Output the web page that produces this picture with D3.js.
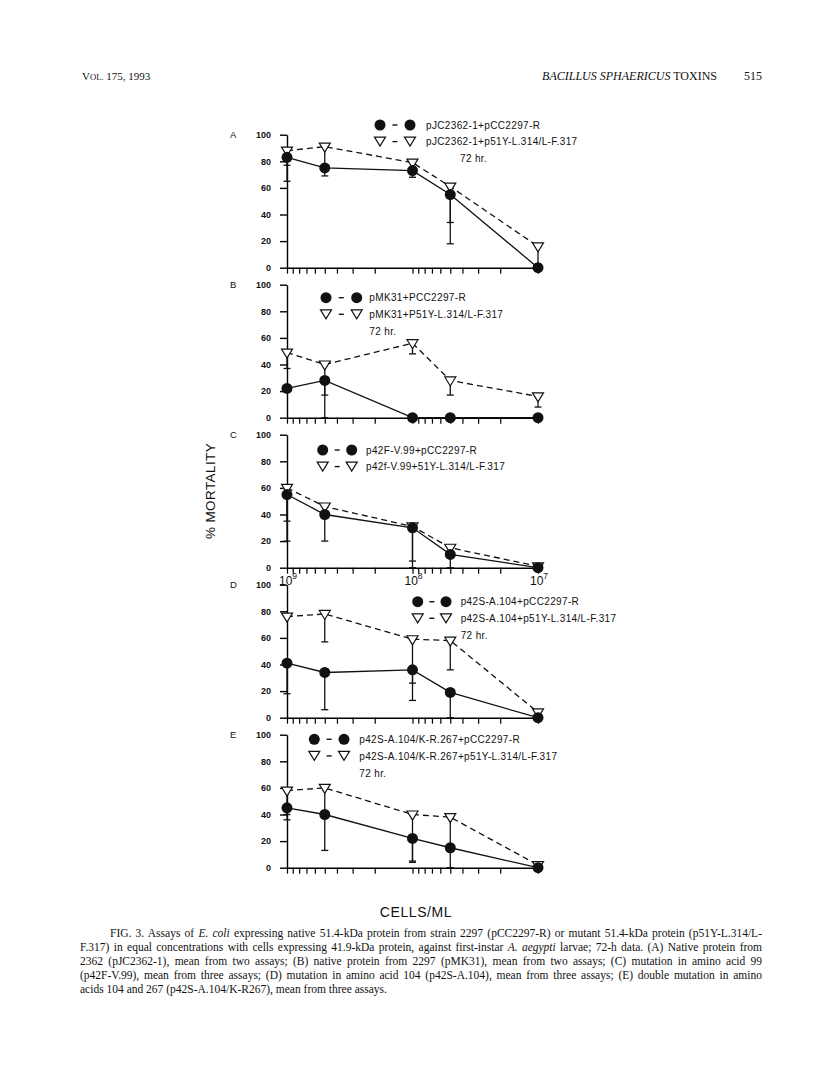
<!DOCTYPE html>
<html><head><meta charset="utf-8">
<script src="https://cdn.jsdelivr.net/npm/d3@7/dist/d3.min.js"></script>
<style>body{margin:0;background:#fff}svg{display:block}</style>
</head><body>
<svg id="c" width="816" height="1085"></svg>
<script>
// ---------- data ----------
const doses = [1e9, 5e8, 1e8, 5e7, 1e7];
const yTicks = [0, 20, 40, 60, 80, 100];
const xTickLabels = [{v: 1e9, e: "9"}, {v: 1e8, e: "8"}, {v: 1e7, e: "7"}];
const panelLetters = ["A", "B", "C", "D", "E"];
const nativeLabels = ["pJC2362-1+pCC2297-R", "pMK31+PCC2297-R", "p42F-V.99+pCC2297-R", "p42S-A.104+pCC2297-R", "p42S-A.104/K-R.267+pCC2297-R"];
const mutantLabels = ["pJC2362-1+p51Y-L.314/L-F.317", "pMK31+P51Y-L.314/L-F.317", "p42f-V.99+51Y-L.314/L-F.317", "p42S-A.104+p51Y-L.314/L-F.317", "p42S-A.104/K-R.267+p51Y-L.314/L-F.317"];
const hourLabel = ["72 hr.", "72 hr.", "", "72 hr.", "72 hr."];

// % mortality (native = filled circles, mutant = open triangles); *Low = lower end of error bar
const nativeA = [83, 75, 73, 55, 0],  nativeLowA = [65, null, 68, 18, null];
const mutantA = [88, 91, 79, 61, 16], mutantLowA = [77, 69, null, 34, 1];
const nativeB = [22, 28, 0, 0, 0],    nativeLowB = [null, 0, null, null, null];
const mutantB = [49, 40, 56, 28, 16], mutantLowB = [37, 17, 48, 17, 8];
const nativeC = [55, 40, 30, 10, 0],  nativeLowC = [20, 20, 0, 0, null];
const mutantC = [60, 46, 31, 15, 1],  mutantLowC = [35, null, 5, null, null];
const nativeD = [41, 34, 36, 19, 0],  nativeLowD = [18, 6, 13, 0, null];
const mutantD = [76, 78, 59, 58, 4],  mutantLowD = [null, 57, 26, 36, null];
const nativeE = [45, 40, 22, 15, 0],  nativeLowE = [36, null, 4, null, null];
const mutantE = [58, 60, 40, 38, 2],  mutantLowE = [40, 13, 5, 0, null];

const nativeSeries = [nativeA, nativeB, nativeC, nativeD, nativeE];
const nativeLows = [nativeLowA, nativeLowB, nativeLowC, nativeLowD, nativeLowE];
const mutantSeries = [mutantA, mutantB, mutantC, mutantD, mutantE];
const mutantLows = [mutantLowA, mutantLowB, mutantLowC, mutantLowD, mutantLowE];

const captionLines = [
  [{t: "FIG. 3. Assays of "}, {t: "E. coli", i: true}, {t: " expressing native 51.4-kDa protein from strain 2297 (pCC2297-R) or mutant 51.4-kDa protein (p51Y-L.314/L-"}],
  [{t: "F.317) in equal concentrations with cells expressing 41.9-kDa protein, against first-instar "}, {t: "A. aegypti", i: true}, {t: " larvae; 72-h data. (A) Native protein from"}],
  [{t: "2362 (pJC2362-1), mean from two assays; (B) native protein from 2297 (pMK31), mean from two assays; (C) mutation in amino acid 99"}],
  [{t: "(p42F-V.99), mean from three assays; (D) mutation in amino acid 104 (p42S-A.104), mean from three assays; (E) double mutation in amino"}],
  [{t: "acids 104 and 267 (p42S-A.104/K-R267), mean from three assays."}]
];

// ---------- layout ----------
const svg = d3.select("#c");
const SANS = "'Liberation Sans', Arial, Helvetica, sans-serif";
const SERIF = "'Liberation Serif', 'Times New Roman', serif";
const x = d3.scaleLog().domain([1e9, 1e7]).range([287, 538]);
const panelTop0 = 134.7, panelStep = 150, panelH = 133;
const legendPos = [
  {c1: 380, c2: 410, tx: 426, y: 125},
  {c1: 326, c2: 356.7, tx: 369.3, y: 297.7},
  {c1: 322.7, c2: 351.7, tx: 366, y: 450},
  {c1: 417.7, c2: 446, tx: 460.7, y: 601.7},
  {c1: 314.3, c2: 344, tx: 359.3, y: 739.3}
];
const hrX = [460, 369.3, 0, 460.7, 359.3];
const rowGap = 16.6;
const triPath = "M-5.5,-3.5L5.5,-3.5L0,5.5Z";

// header
const hl = svg.append("text").attr("x", 82).attr("y", 80).attr("font-family", SERIF).attr("font-size", 11).attr("fill", "#111");
hl.append("tspan").text("V");
hl.append("tspan").attr("font-size", 8.6).text("OL.");
hl.append("tspan").text(" 175, 1993");
const hr = svg.append("text").attr("x", 717).attr("y", 80).attr("text-anchor", "end").attr("font-family", SERIF).attr("font-size", 12).attr("fill", "#111");
hr.append("tspan").attr("font-style", "italic").text("BACILLUS SPHAERICUS");
hr.append("tspan").text(" TOXINS");
svg.append("text").attr("x", 762).attr("y", 80).attr("text-anchor", "end").attr("font-family", SERIF).attr("font-size", 12).attr("fill", "#111").text("515");

panelLetters.forEach((letter, i) => {
  const top = panelTop0 + panelStep * i;
  const y = d3.scaleLinear().domain([0, 100]).range([top + panelH, top]);
  const g = svg.append("g");

  // y axis
  const ya = g.append("g").attr("transform", `translate(${x(1e9)},0)`)
    .call(d3.axisLeft(y).tickValues(yTicks).tickSize(7).tickSizeOuter(0).tickPadding(9));
  ya.select(".domain").attr("stroke-width", 1.4);
  ya.selectAll(".tick line").attr("stroke-width", 1.4);
  ya.selectAll("text").attr("font-family", SANS).attr("font-size", 9).attr("font-weight", "bold").attr("fill", "#111");

  // x axis
  const xa = g.append("g").attr("transform", `translate(0,${y(0)})`)
    .call(d3.axisBottom(x).ticks(10).tickSize(6).tickSizeOuter(0).tickFormat(""));
  xa.select(".domain").attr("stroke-width", 1.4);
  xa.selectAll(".tick line").attr("stroke-width", 1.2);

  // panel letter
  g.append("text").attr("x", 230).attr("y", top + 3.5).attr("font-family", SANS).attr("font-size", 9.5).attr("fill", "#111").text(letter);

  const nat = nativeSeries[i], natLow = nativeLows[i], mut = mutantSeries[i], mutLow = mutantLows[i];
  const line = d3.line().x((d, k) => x(doses[k])).y(d => y(d));

  g.append("path").attr("d", line(mut)).attr("fill", "none").attr("stroke", "#111").attr("stroke-width", 1.3).attr("stroke-dasharray", "6,4");
  g.append("path").attr("d", line(nat)).attr("fill", "none").attr("stroke", "#111").attr("stroke-width", 1.3);

  // error bars (lower only)
  const drawErr = (vals, lows) => {
    vals.forEach((v, k) => {
      const lo = lows[k];
      if (lo === null) return;
      const cx = x(doses[k]);
      g.append("line").attr("x1", cx).attr("x2", cx).attr("y1", y(v)).attr("y2", y(lo)).attr("stroke", "#111").attr("stroke-width", 1.3);
      g.append("line").attr("x1", cx - 3.5).attr("x2", cx + 3.5).attr("y1", y(lo)).attr("y2", y(lo)).attr("stroke", "#111").attr("stroke-width", 1.3);
    });
  };
  drawErr(mut, mutLow);
  drawErr(nat, natLow);

  g.selectAll(".tri").data(mut).join("path").attr("class", "tri")
    .attr("transform", (d, k) => `translate(${x(doses[k])},${y(d)})`)
    .attr("d", triPath).attr("fill", "#fff").attr("stroke", "#111").attr("stroke-width", 1.2);
  g.selectAll(".dot").data(nat).join("circle").attr("class", "dot")
    .attr("cx", (d, k) => x(doses[k])).attr("cy", d => y(d)).attr("r", 5.5).attr("fill", "#111");

  // legend
  const L = legendPos[i];
  const r1 = L.y, r2 = L.y + rowGap;
  [L.c1, L.c2].forEach(cx => g.append("circle").attr("cx", cx).attr("cy", r1).attr("r", 5.5).attr("fill", "#111"));
  [L.c1, L.c2].forEach(cx => g.append("path").attr("transform", `translate(${cx},${r2 - 1})`).attr("d", triPath).attr("fill", "#fff").attr("stroke", "#111").attr("stroke-width", 1.2));
  [r1, r2].forEach(ry => g.append("line").attr("x1", (L.c1 + L.c2) / 2 - 2.5).attr("x2", (L.c1 + L.c2) / 2 + 2.5).attr("y1", ry).attr("y2", ry).attr("stroke", "#111").attr("stroke-width", 1.4));
  const legText = (tx, ty, s) => g.append("text").attr("x", tx).attr("y", ty + 3.6).attr("font-family", SANS).attr("font-size", 10).attr("letter-spacing", 0.35).attr("fill", "#111").text(s);
  legText(L.tx, r1, nativeLabels[i]);
  legText(L.tx, r2, mutantLabels[i]);
  if (hourLabel[i]) legText(hrX[i], r2 + rowGap + 0.5, hourLabel[i]);

  // x tick labels under panel C
  if (letter === "C") {
    xTickLabels.forEach(t => {
      const tx = g.append("text").attr("x", x(t.v) + 1).attr("y", y(0) + 17).attr("text-anchor", "middle").attr("font-family", SANS).attr("fill", "#111");
      tx.append("tspan").attr("font-size", 12).text("10");
      tx.append("tspan").attr("font-size", 8.5).attr("dy", -6).text(t.e);
    });
  }
});

// axis titles
svg.append("text").attr("transform", "translate(215,491) rotate(-90)").attr("text-anchor", "middle")
  .attr("font-family", SANS).attr("font-size", 13.5).attr("letter-spacing", 0.4).attr("fill", "#111").text("% MORTALITY");
svg.append("text").attr("x", 416).attr("y", 917).attr("text-anchor", "middle")
  .attr("font-family", SANS).attr("font-size", 14).attr("letter-spacing", 0.6).attr("fill", "#111").text("CELLS/ML");

// caption (justified)
const capY0 = 937, capStep = 14, capLeft = 80, capRight = 762;
captionLines.forEach((parts, li) => {
  const x0 = li === 0 ? 110 : capLeft;
  const t = svg.append("text").attr("x", x0).attr("y", capY0 + li * capStep)
    .attr("font-family", SERIF).attr("font-size", 11.5).attr("fill", "#111");
  parts.forEach(p => t.append("tspan").attr("font-style", p.i ? "italic" : null).text(p.t));
  if (li < captionLines.length - 1) {
    const w = t.node().getComputedTextLength();
    const n = parts.map(p => p.t).join("").split(" ").length - 1;
    t.attr("word-spacing", ((capRight - x0) - w) / n);
  }
});
</script>
</body></html>
